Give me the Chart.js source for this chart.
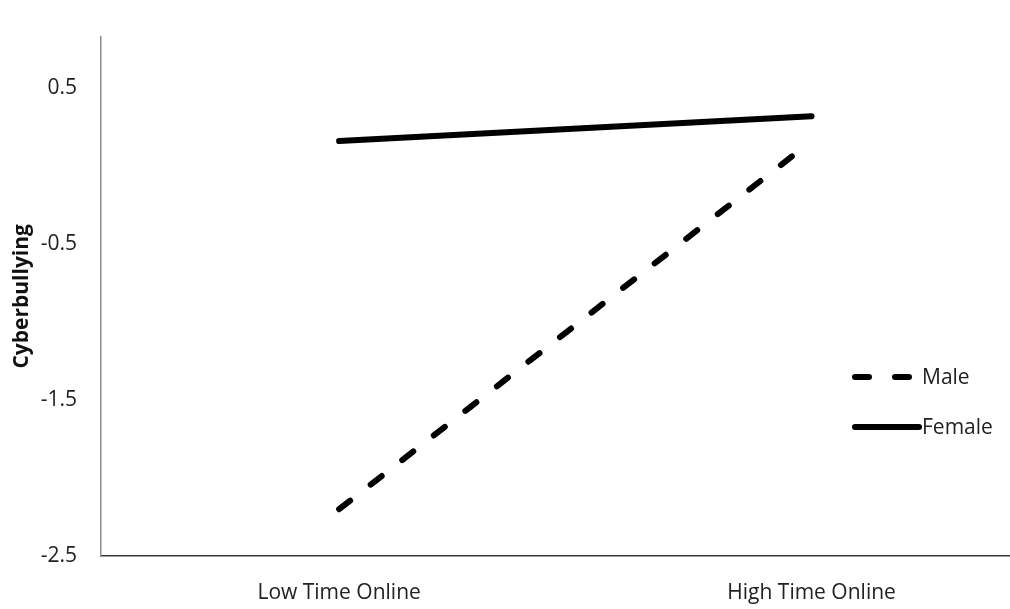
<!DOCTYPE html>
<html lang="en">
<head>
  <meta charset="UTF-8">
  <title>Cyberbullying by Time Online</title>
  <script src="https://cdn.jsdelivr.net/npm/chart.js@4.4.0/dist/chart.umd.min.js"></script>
  <style>
    html, body {
      margin: 0;
      padding: 0;
      background: #ffffff;
    }
    .chart-box {
      position: relative;
      width: 1010px;
      height: 609px;
    }
  </style>
</head>
<body>

<div class="chart-box">
  <canvas id="moderationChart"></canvas>
</div>

<script>
  // Dados
  const categories = ['Low Time Online', 'High Time Online'];
  const maleValues = [-2.2, 0.16];
  const femaleValues = [0.16, 0.32];
  const yTicks = [-2.5, -1.5, -0.5, 0.5];

  const toPoints = values => values.map((v, i) => ({ x: i, y: v }));

  // Legenda desenhada dentro da área do gráfico
  const insideLegend = {
    id: 'insideLegend',
    afterDraw(chart) {
      const ctx = chart.ctx;
      const rows = [
        { ds: chart.data.datasets[0], y: 377 },
        { ds: chart.data.datasets[1], y: 427 }
      ];
      ctx.save();
      rows.forEach(row => {
        ctx.beginPath();
        ctx.lineWidth = row.ds.borderWidth;
        ctx.strokeStyle = row.ds.borderColor;
        ctx.lineCap = 'round';
        ctx.setLineDash(row.ds.borderDash || []);
        ctx.moveTo(855, row.y);
        ctx.lineTo(row.ds.borderDash ? 910 : 919, row.y);
        ctx.stroke();
        ctx.setLineDash([]);
        ctx.fillStyle = '#222';
        ctx.font = '21px "Open Sans"';
        ctx.textBaseline = 'middle';
        ctx.fillText(row.ds.label, 922, row.y + 1);
      });
      ctx.restore();
    }
  };

  const ctx = document.getElementById('moderationChart').getContext('2d');
  new Chart(ctx, {
    type: 'line',
    data: {
      datasets: [{
        label: 'Male',
        data: toPoints(maleValues),
        borderColor: '#000000',
        borderWidth: 6,
        borderDash: [14, 26],
        borderCapStyle: 'round',
        pointRadius: 0,
        tension: 0
      }, {
        label: 'Female',
        data: toPoints(femaleValues),
        borderColor: '#000000',
        borderWidth: 6,
        borderCapStyle: 'round',
        pointRadius: 0,
        tension: 0
      }]
    },
    options: {
      responsive: true,
      maintainAspectRatio: false,
      animation: false,
      layout: { padding: { top: 33, left: 0, right: 0, bottom: 0 } },
      plugins: {
        legend: { display: false },
        tooltip: { enabled: false }
      },
      scales: {
        x: {
          type: 'linear',
          min: -0.504,
          max: 1.42,
          grid: { display: false, drawTicks: false },
          border: { display: true, color: '#3a3a3a', width: 1.5 },
          afterBuildTicks: scale => {
            scale.ticks = categories.map((c, i) => ({ value: i }));
          },
          afterFit: scale => { scale.height = 53; },
          ticks: {
            padding: 24,
            color: '#222',
            font: { family: '"Open Sans"', size: 21 },
            callback: value => categories[value]
          }
        },
        y: {
          min: -2.5,
          max: 0.83,
          grid: { display: false, drawTicks: false },
          border: { display: true, color: '#8c8c8c', width: 1.5 },
          afterBuildTicks: scale => {
            scale.ticks = yTicks.map(v => ({ value: v }));
          },
          afterFit: scale => { scale.width = 101; },
          ticks: {
            padding: 24,
            color: '#222',
            font: { family: '"Open Sans"', size: 21 },
            callback: value => String(value)
          },
          title: {
            display: true,
            text: 'Cyberbullying',
            color: '#111',
            padding: { top: 9, bottom: 0 },
            font: { family: '"Open Sans"', size: 21, weight: 'bold' }
          }
        }
      }
    },
    plugins: [insideLegend]
  });
</script>

</body>
</html>
